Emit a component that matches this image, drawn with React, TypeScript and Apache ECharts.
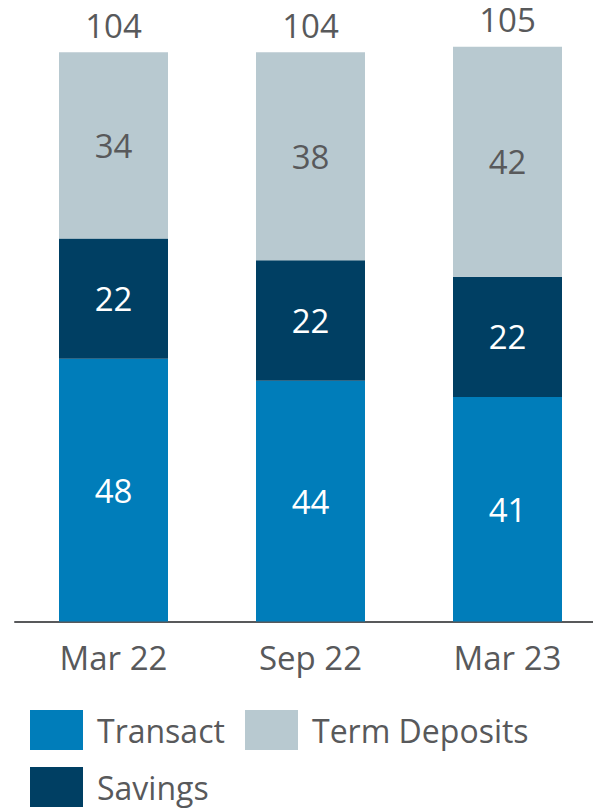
import React, { useEffect, useRef } from "react";
import * as echarts from "echarts";

const categories = ["Mar 22", "Sep 22", "Mar 23"];
const transact = [48, 44, 41];
const savings = [22, 22, 22];
const termDeposits = [34, 38, 42];
const totals = [104, 104, 105];

const FONT = "'Open Sans', sans-serif";
const GREY = "#58595B";
const C_TRANSACT = "#007DBA";
const C_SAVINGS = "#003F63";
const C_TERM = "#B8C9D0";

export default function App() {
  const ref = useRef<HTMLDivElement>(null);
  useEffect(() => {
    if (!ref.current) return;
    const chart = echarts.init(ref.current, undefined, { renderer: "svg" });
    const legendCommon = {
      orient: "horizontal" as const,
      padding: 0,
      itemWidth: 53,
      itemHeight: 40,
      icon: "rect",
      selectedMode: false,
      textStyle: { fontFamily: FONT, fontSize: 32, color: GREY, padding: [0, 0, 0, 9] },
    };
    const segLabel = (color: string) => ({
      show: true,
      position: "inside" as const,
      fontFamily: FONT,
      fontSize: 33,
      color,
    });
    chart.setOption({
      animation: false,
      legend: [
        { ...legendCommon, left: 30, top: 710, data: ["Transact"] },
        { ...legendCommon, left: 245, top: 710, data: ["Term Deposits"] },
        { ...legendCommon, left: 30, top: 767, data: ["Savings"] },
      ],
      grid: {
        left: 15,
        width: 591,
        top: 19.5,
        bottom: 187.5,
        containLabel: false,
        outerBoundsMode: "none",
      },
      xAxis: {
        type: "category",
        data: categories,
        axisLine: { show: true, lineStyle: { color: GREY, width: 2 } },
        axisTick: { show: false },
        axisLabel: {
          fontFamily: FONT,
          fontSize: 33,
          color: GREY,
          margin: 16,
          lineHeight: 40,
        },
      },
      yAxis: { type: "value", min: 0, max: 110, show: false, splitLine: { show: false } },
      series: [
        {
          name: "Transact",
          type: "bar",
          stack: "dep",
          barWidth: 109,
          data: transact,
          itemStyle: { color: C_TRANSACT },
          label: segLabel("#FFFFFF"),
        },
        {
          name: "Savings",
          type: "bar",
          stack: "dep",
          barWidth: 109,
          data: savings,
          itemStyle: { color: C_SAVINGS },
          label: segLabel("#FFFFFF"),
        },
        {
          name: "Term Deposits",
          type: "bar",
          stack: "dep",
          barWidth: 109,
          data: termDeposits,
          itemStyle: { color: C_TERM },
          label: segLabel(GREY),
        },
        {
          name: "Total",
          type: "bar",
          barWidth: 109,
          barGap: "-100%",
          data: totals,
          silent: true,
          clip: false,
          z: 1,
          itemStyle: { color: "rgba(0,0,0,0)" },
          label: {
            show: true,
            position: "top",
            distance: 10,
            fontFamily: FONT,
            fontSize: 33,
            lineHeight: 34,
            color: GREY,
          },
        },
      ],
    });
    return () => chart.dispose();
  }, []);
  return (
    <div
      ref={ref}
      style={{ position: "absolute", left: 0, top: 0, width: 593, height: 809, background: "#fff" }}
    />
  );
}
